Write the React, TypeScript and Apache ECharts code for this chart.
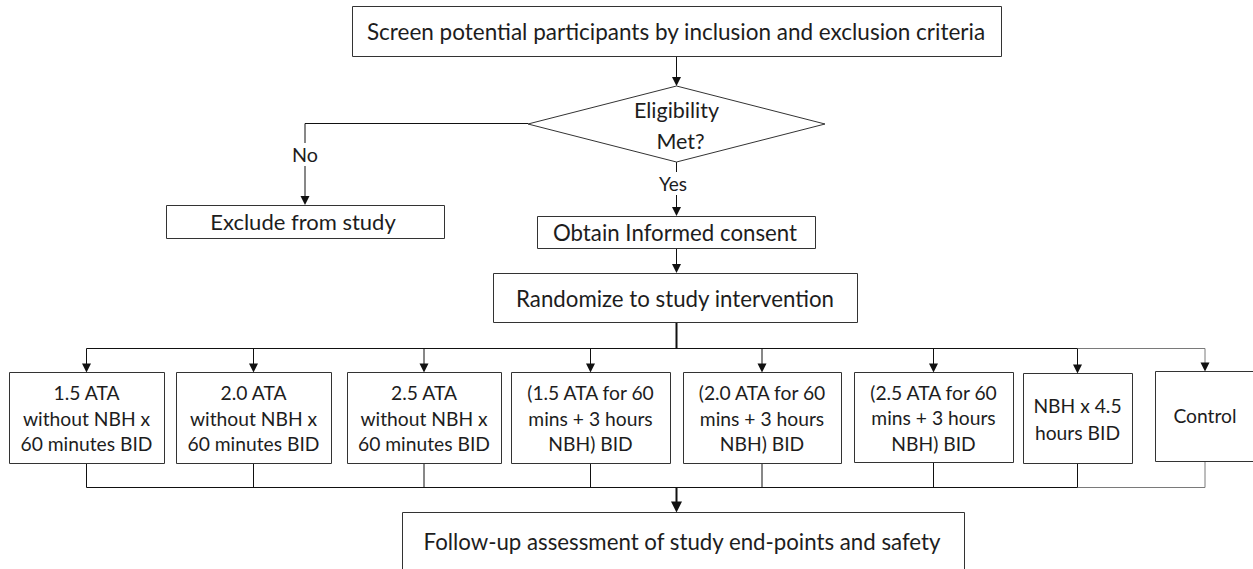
import React, { useEffect, useRef } from "react";
import * as echarts from "echarts";

// ---- content ----
const TOP_STEP = "Screen potential participants by inclusion and exclusion criteria";
const DECISION_LINES = ["Eligibility", "Met?"];
const BRANCH_LABELS = ["No", "Yes"];
const EXCLUDE_STEP = "Exclude from study";
const CONSENT_STEP = "Obtain Informed consent";
const RANDOMIZE_STEP = "Randomize to study intervention";
const ARM_LABELS = [
  ["1.5 ATA", "without NBH x", "60 minutes BID"],
  ["2.0 ATA", "without NBH x", "60 minutes BID"],
  ["2.5 ATA", "without NBH x", "60 minutes BID"],
  ["(1.5 ATA for 60", "mins + 3 hours", "NBH) BID"],
  ["(2.0 ATA for 60", "mins + 3 hours", "NBH) BID"],
  ["(2.5 ATA for 60", "mins + 3 hours", "NBH) BID"],
  ["NBH x 4.5", "hours BID"],
  ["Control"],
];
const FOLLOW_UP_STEP = "Follow-up assessment of study end-points and safety";

// ---- layout (pixels) ----
const TOP_BOX = [352, 6, 649, 50];
const DIAMOND = { cx: 676.5, cy: 124, hw: 148.5, hh: 38 };
const EXCLUDE_BOX = [166, 205, 278, 33];
const CONSENT_BOX = [537, 216, 278, 32];
const RANDOMIZE_BOX = [493, 273, 364, 49];
const ARM_BOXES = [
  [9, 372, 155, 91],
  [176, 372, 155, 91],
  [347, 372, 154, 91],
  [511, 372, 159, 91],
  [683, 372, 158, 91],
  [854, 372, 159, 90],
  [1023, 373, 109, 90],
  [1155, 371, 100, 90],
];
const FOLLOW_BOX = [402, 512, 562, 90];
const BUS_TOP_Y = 348;
const BUS_BOTTOM_Y = 487;
const MAIN_X = 676.5;
const NO_X = 305;

const FONT = "Lato";
const TEXT_COLOR = "#1d1d1d";
const BOX_STROKE = "#333";
const LINE_COLOR = "#111";
const GRAY_LINE = "#7a7a7a";

function fitSize(text: string, target: number) {
  const ctx = document.createElement("canvas").getContext("2d");
  if (!ctx) return 18;
  ctx.font = `100px ${FONT}`;
  const w = ctx.measureText(text).width;
  return Math.round(((100 * target) / w) * 4) / 4;
}

function rect(b: number[], stroke = BOX_STROKE) {
  return {
    type: "rect",
    shape: { x: b[0] + 0.5, y: b[1] + 0.5, width: b[2], height: b[3] },
    style: { fill: "#fff", stroke, lineWidth: 1 },
    z: 2,
  };
}
function line(x1: number, y1: number, x2: number, y2: number, w = 1, color = LINE_COLOR) {
  return {
    type: "line",
    shape: { x1, y1, x2, y2 },
    style: { stroke: color, lineWidth: w },
    z: 1,
  };
}
function arrowHead(x: number, tipY: number, size = 4.5, len = 9, color = LINE_COLOR) {
  return {
    type: "polygon",
    shape: { points: [[x - size, tipY - len], [x + size, tipY - len], [x, tipY]] },
    style: { fill: color },
    z: 3,
  };
}
function text(str: string, x: number, y: number, size: number, lineHeight?: number) {
  return {
    type: "text",
    x,
    y,
    z: 4,
    style: {
      text: str,
      fontFamily: FONT,
      fontSize: size,
      fill: TEXT_COLOR,
      align: "center",
      verticalAlign: "middle",
      lineHeight: lineHeight || size * 1.2,
    },
  };
}

export default function App() {
  const ref = useRef<HTMLDivElement>(null);
  useEffect(() => {
    document.body.style.margin = "0";
    if (!ref.current) return;
    const chart = echarts.init(ref.current, undefined, { renderer: "svg" });

    const armSize = fitSize("60 minutes BID", 132);
    const els: any[] = [];

    // top box
    els.push(rect(TOP_BOX));
    els.push(text(TOP_STEP, 676, 31, fitSize(TOP_STEP, 620)));
    // arrow to diamond
    els.push(line(MAIN_X, TOP_BOX[1] + TOP_BOX[3], MAIN_X, DIAMOND.cy - DIAMOND.hh - 8));
    els.push(arrowHead(MAIN_X, DIAMOND.cy - DIAMOND.hh));
    // diamond
    const d = DIAMOND;
    els.push({
      type: "polygon",
      shape: {
        points: [
          [d.cx - d.hw, d.cy],
          [d.cx, d.cy - d.hh],
          [d.cx + d.hw, d.cy],
          [d.cx, d.cy + d.hh],
        ],
      },
      style: { fill: "#fff", stroke: BOX_STROKE, lineWidth: 1 },
      z: 2,
    });
    const dSize = fitSize(DECISION_LINES[0], 85);
    els.push(text(DECISION_LINES[0], d.cx, 110, dSize));
    els.push(text(DECISION_LINES[1], d.cx + 4, 141, dSize));

    // No branch
    els.push(line(d.cx - d.hw, d.cy - 0.5, NO_X, d.cy - 0.5));
    els.push(line(NO_X, d.cy - 0.5, NO_X, 143));
    els.push(text(BRANCH_LABELS[0], NO_X, 154, fitSize(BRANCH_LABELS[0], 26)));
    els.push(line(NO_X, 166, NO_X, EXCLUDE_BOX[1] - 8));
    els.push(arrowHead(NO_X, EXCLUDE_BOX[1]));
    els.push(rect(EXCLUDE_BOX));
    els.push(text(EXCLUDE_STEP, 303, 221, fitSize(EXCLUDE_STEP, 186)));

    // Yes branch
    els.push(line(MAIN_X, d.cy + d.hh, MAIN_X, 172));
    els.push(text(BRANCH_LABELS[1], 673, 183, fitSize(BRANCH_LABELS[1], 28)));
    els.push(line(MAIN_X, 195, MAIN_X, CONSENT_BOX[1] - 8));
    els.push(arrowHead(MAIN_X, CONSENT_BOX[1]));
    els.push(rect(CONSENT_BOX));
    els.push(text(CONSENT_STEP, 675, 232, fitSize(CONSENT_STEP, 244)));

    // to randomize
    els.push(line(MAIN_X, CONSENT_BOX[1] + CONSENT_BOX[3], MAIN_X, RANDOMIZE_BOX[1] - 8));
    els.push(arrowHead(MAIN_X, RANDOMIZE_BOX[1]));
    els.push(rect(RANDOMIZE_BOX));
    els.push(text(RANDOMIZE_STEP, 675, 298, fitSize(RANDOMIZE_STEP, 318)));

    // randomize -> top bus (thick)
    els.push(line(MAIN_X, RANDOMIZE_BOX[1] + RANDOMIZE_BOX[3], MAIN_X, BUS_TOP_Y + 1, 2));

    const centers = ARM_BOXES.map((b) => b[0] + b[2] / 2);
    const lastBlack = centers[centers.length - 2];
    const lastX = centers[centers.length - 1];
    // top bus
    els.push(line(centers[0], BUS_TOP_Y + 0.5, lastBlack, BUS_TOP_Y + 0.5, 1.2));
    els.push(line(lastBlack, BUS_TOP_Y + 0.5, lastX, BUS_TOP_Y + 0.5, 1.2, GRAY_LINE));
    // bottom bus
    els.push(line(centers[0], BUS_BOTTOM_Y + 0.5, lastBlack, BUS_BOTTOM_Y + 0.5, 1.2));
    els.push(line(lastBlack, BUS_BOTTOM_Y + 0.5, lastX, BUS_BOTTOM_Y + 0.5, 1.2, GRAY_LINE));

    ARM_LABELS.forEach((lines, i) => {
      const b = ARM_BOXES[i];
      const cx = centers[i];
      const last = i === ARM_LABELS.length - 1;
      const col = last ? GRAY_LINE : LINE_COLOR;
      els.push(line(cx, BUS_TOP_Y + 0.5, cx, b[1] - 8, 1, col));
      els.push(arrowHead(cx, b[1] + 0.5, 4.5, 9, LINE_COLOR));
      els.push(line(cx, b[1] + b[3], cx, BUS_BOTTOM_Y + 0.5, 1, col));
      els.push(rect(b));
      const dy = lines.length === 1 ? -1 : 0.5;
      els.push(text(lines.join("\n"), cx, b[1] + b[3] / 2 + dy, armSize, lines.length === 2 ? 27 : 25.5));
    });

    // bottom bus -> follow-up (thick arrow)
    els.push(line(MAIN_X, BUS_BOTTOM_Y, MAIN_X, FOLLOW_BOX[1] - 9, 2));
    els.push(arrowHead(MAIN_X, FOLLOW_BOX[1] + 0.5, 5.5, 11));
    els.push(rect(FOLLOW_BOX));
    els.push(text(FOLLOW_UP_STEP, 682, 541, fitSize(FOLLOW_UP_STEP, 520)));

    chart.setOption({
      animation: false,
      backgroundColor: "#ffffff",
      graphic: { elements: els },
    });
    return () => chart.dispose();
  }, []);
  return <div ref={ref} style={{ width: 1253, height: 569 }} />;
}
